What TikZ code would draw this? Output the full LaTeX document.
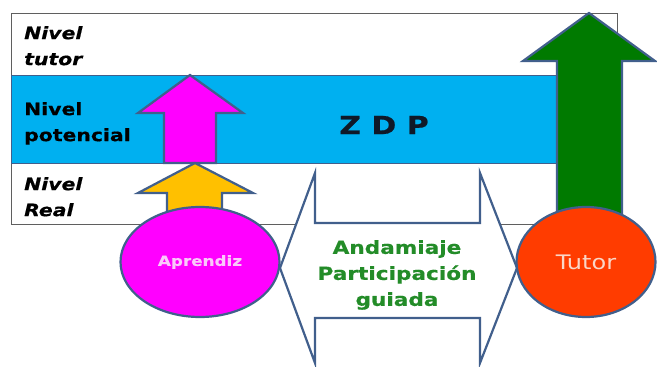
\documentclass[tikz,border=0pt]{standalone}
\usepackage{fontspec}
\setmainfont{DejaVu Sans}[FakeStretch=1.2, BoldFeatures={FakeBold=0.6}, BoldItalicFeatures={FakeBold=0.6}]
\usetikzlibrary{shapes.geometric}

\definecolor{zdpblue}{RGB}{0,176,240}
\definecolor{outline}{RGB}{65,95,140}
\definecolor{framegray}{RGB}{95,95,95}
\definecolor{arrowpink}{RGB}{255,0,255}
\definecolor{arrowgold}{RGB}{255,192,0}
\definecolor{arrowgreen}{RGB}{0,122,0}
\definecolor{tutorred}{RGB}{255,60,0}
\definecolor{textgreen}{RGB}{35,140,40}
\definecolor{zdptext}{RGB}{15,25,40}

\begin{document}
\begin{tikzpicture}[
  x=1pt, y=-1pt,
  frame/.style={draw=framegray, line width=0.9pt},
  band/.style={draw=outline, line width=1pt, fill=zdpblue},
  blockarrow/.style={draw=outline, line width=2.2pt, line join=miter},
  levellabel/.style={
    anchor=north west,
    inner sep=0pt,
    align=left,
    font=\fontsize{17}{26}\selectfont\bfseries
  },
  person/.style={
    ellipse,
    draw=outline,
    line width=2.2pt,
    minimum height=110pt,
    inner sep=0pt
  }
]
\useasboundingbox (0,0) rectangle (657,367);

% niveles
\draw[frame, fill=white] (11,13) rectangle (617,224);
\draw[band] (11,75) rectangle (557,163);

\node[levellabel, font=\fontsize{17}{26}\selectfont\bfseries\itshape] (tutorlevel) at (24,26) {Nivel\\tutor};
\node[levellabel] (potlevel) at (24,102) {Nivel\\potencial};
\node[levellabel, font=\fontsize{17}{26}\selectfont\bfseries\itshape] (reallevel) at (24,177) {Nivel\\Real};

\node[font=\fontsize{25}{30}\selectfont\bfseries, text=zdptext] (zdp) at (384,125) {Z D P};

% flechas
\draw[blockarrow, fill=arrowpink]
  (164,163) -- (164,113) -- (138,113) -- (190,75) -- (243,113) -- (216,113) -- (216,163) -- cycle;
\draw[blockarrow, fill=arrowgold]
  (167,215) -- (167,193) -- (138,193) -- (195,163) -- (253,193) -- (222,193) -- (222,215) -- cycle;
\draw[blockarrow, fill=arrowgreen]
  (557,215) -- (557,61) -- (523,61) -- (589,13) -- (655,61) -- (622,61) -- (622,215) -- cycle;

\draw[blockarrow, fill=white]
  (280,268) -- (315,173) -- (315,223) -- (480,223) -- (480,173) -- (517,268)
  -- (480,363) -- (480,318) -- (315,318) -- (315,363) -- cycle;
\node[font=\fontsize{18}{26}\selectfont\bfseries, text=textgreen, align=center, anchor=north, inner sep=0pt]
  (support) at (397,240) {Andamiaje\\Participación\\guiada};

% personas
\node[person, fill=arrowpink, minimum width=159pt, text={rgb,255:red,250;green,200;blue,250},
  font=\fontsize{14}{16}\selectfont\bfseries] (learner) at (200,262) {Aprendiz};
\node[person, fill=tutorred, minimum width=139pt, text={rgb,255:red,250;green,215;blue,200},
  font=\fontsize{20}{23}\selectfont] (tutor) at (586,262) {Tutor};

\end{tikzpicture}
\end{document}
